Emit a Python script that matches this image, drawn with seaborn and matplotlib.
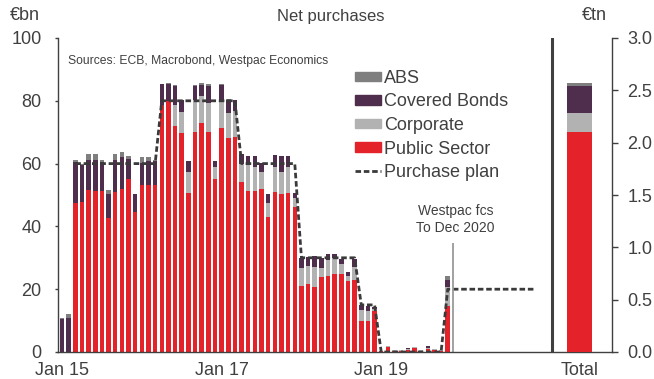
import numpy as np
import matplotlib
matplotlib.use("Agg")
import matplotlib.pyplot as plt
import seaborn as sns
from matplotlib.patches import Patch
from matplotlib.lines import Line2D

# monthly net purchases, EUR bn, Jan 15 .. Nov 19
public = [0, 0, 47.4, 47.8, 51.6, 51.4, 51.2, 42.8, 50.9, 52.0, 55.1, 44.5,
          53.1, 53.3, 53.2, 78.7, 79.8, 72.0, 69.8, 50.6, 70.0, 73.0, 70.2, 55.1,
          71.3, 68.1, 68.6, 54.0, 51.4, 51.4, 51.8, 43.0, 50.8, 50.2, 50.6, 46.2,
          20.9, 21.7, 20.8, 23.8, 24.1, 25.0, 25.0, 22.5, 23.0, 9.8, 10.0, 13.0,
          0.3, 1.5, 0.3, 0.2, 0.5, 1.4, 0.2, 1.0, 0.7, 0.2, 14.6]
corporate = [0, 0, 0, 0, 0, 0, 0, 0, 0, 0, 0, 0,
             0, 0, 0, 0, 0, 6.7, 6.5, 6.8, 10.2, 8.5, 9.0, 3.9,
             8.6, 7.9, 8.0, 5.9, 8.0, 7.4, 5.5, 4.6, 8.0, 7.2, 8.4, 2.9,
             5.8, 5.6, 6.4, 3.0, 5.1, 4.8, 2.9, 1.7, 4.0, 3.7, 3.2, 0.8,
             0, 0.4, 0.2, 0.5, 0.3, 0.2, 0.3, 0.4, 0.2, 0.3, 6.0]
covered = [10.4, 10.9, 13.2, 11.6, 9.7, 9.9, 9.2, 7.5, 10.1, 10.1, 6.5, 5.8,
           7.1, 7.5, 7.5, 6.5, 5.6, 6.0, 3.8, 3.4, 4.6, 3.6, 5.5, 1.9,
           5.0, 4.3, 3.5, 3.0, 3.1, 3.5, 2.8, 2.6, 4.0, 4.9, 3.5, 1.6,
           3.3, 3.1, 3.4, 3.1, 2.1, 1.3, 1.7, 1.2, 2.7, 1.6, 1.6, 0.6,
           0, 0, 0, 0, 0.5, 0, 0, 0.5, 0, 0, 2.3]
abs_ = [0.5, 1.1, 0.4, 0.6, 1.7, 1.9, 0.9, 1.4, 1.9, 1.6, 0.9, 0,
        2.0, 1.2, 0.3, 0.3, 0.2, 0.4, 0.3, 0, 0.3, 0.6, 0.6, 0,
        0.3, 0.2, 0.2, 0, 0, 0, 0, 0, 0, 0, 0, 0,
        0, 0, 0, 0, 0, 0, 0, 0, 0, 0, 0, 0,
        0, 0, 0, 0, 0, 0, 0, 0, 0, 0, 1.4]

# purchase plan, EUR bn per month, Jan 15 .. Dec 20 (incl. Westpac forecast)
plan = [np.nan, np.nan, 60, 60, 60, 60, 60, 60, 60, 60, 60, 60,
        60, 60, 60, 80, 80, 80, 80, 80, 80, 80, 80, 80,
        80, 80, 80, 60, 60, 60, 60, 60, 60, 60, 60, 60,
        30, 30, 30, 30, 30, 30, 30, 30, 30, 15, 15, 15,
        0, 0, 0, 0, 0, 0, 0, 0, 0, 0, 20, 20,
        20, 20, 20, 20, 20, 20, 20, 20, 20, 20, 20, 20]

# cumulative holdings, EUR tn
total_public = 2.10
total_corporate = 0.18
total_covered = 0.26
total_abs = 0.03

tick_pos = [0, 24, 48]
tick_labels = ["Jan 15", "Jan 17", "Jan 19"]

c_public = "#E3222A"
c_corp = "#B2B2B2"
c_cov = "#4F2D4C"
c_abs = "#7F7F7F"
c_line = "#3A3A3A"
c_txt = "#404040"

sns.set_style("white")
plt.rcParams["font.family"] = ["Liberation Sans", "DejaVu Sans"]

fig = plt.figure(figsize=(6.54, 3.79), dpi=100)
ax = fig.add_axes([57.5 / 654, 1 - 352 / 379, (612 - 57.5) / 654, (352 - 38) / 379])

x = np.arange(len(public))
pub = np.array(public)
lay1 = pub + np.array(corporate)
lay2 = lay1 + np.array(covered)
lay3 = lay2 + np.array(abs_)

# stacked bars: draw cumulative layers top-down
for vals, col in [(lay3, c_abs), (lay2, c_cov), (lay1, c_corp), (pub, c_public)]:
    sns.barplot(x=x, y=vals, native_scale=True, orient="x", color=col,
                saturation=1, width=0.68, linewidth=0, errorbar=None, ax=ax)

sns.lineplot(x=np.arange(len(plan)), y=plan, color=c_line, linewidth=2,
             linestyle=(0, (2, 1)), ax=ax)

# forecast marker and separator
ax.vlines(58.8, 0, 34.7, color="#9A9A9A", linewidth=1.3)
ax.text(59.2, 42.3, "Westpac fcs\nTo Dec 2020", ha="center", va="center",
        fontsize=10, color=c_txt, linespacing=1.3)
ax.axvline(73.7, color=c_txt, linewidth=2.2)

ax.set_ylim(0, 100)
ax.set_yticks([0, 20, 40, 60, 80, 100])

ax2 = ax.twinx()
t_pub = np.array([total_public])
t1 = t_pub + total_corporate
t2 = t1 + total_covered
t3 = t2 + total_abs
for vals, col in [(t3, c_abs), (t2, c_cov), (t1, c_corp), (t_pub, c_public)]:
    sns.barplot(x=[77.8], y=vals, native_scale=True, orient="x", color=col,
                saturation=1, width=3.85, linewidth=0, errorbar=None, ax=ax2)
ax2.set_ylim(0, 3)
ax2.set_yticks([0, 0.5, 1, 1.5, 2, 2.5, 3])
ax2.set_yticklabels([f"{v:.1f}" for v in ax2.get_yticks()])

ax.set_xlim(-0.68, 82.7)
ax.set_xticks(tick_pos + [77.8])
ax.set_xticklabels(tick_labels + ["Total"])

for a in (ax, ax2):
    a.set_xlabel("")
    a.set_ylabel("")
    a.spines["top"].set_visible(False)
    for s in ("left", "right", "bottom"):
        a.spines[s].set_color(c_txt)
        a.spines[s].set_linewidth(1.0)
ax.spines["right"].set_visible(False)
ax2.spines["left"].set_visible(False)
ax2.spines["bottom"].set_visible(False)

ax.tick_params(axis="y", left=True, length=2.5, width=1, color=c_txt, pad=9,
               labelsize=13, labelcolor=c_txt)
ax.tick_params(axis="x", length=0, pad=7, labelsize=13, labelcolor=c_txt)
ax2.tick_params(axis="y", right=True, length=4, width=1, color=c_txt, pad=7,
                labelsize=13, labelcolor=c_txt)

fig.text(10 / 654, 1 - 15 / 379, "€bn", fontsize=13, color=c_txt, va="center")
fig.text(331 / 654, 1 - 16 / 379, "Net purchases", fontsize=12, color=c_txt,
         ha="center", va="center")
fig.text(582 / 654, 1 - 15 / 379, "€tn", fontsize=13, color=c_txt, va="center")
fig.text(68 / 654, 1 - 61 / 379, "Sources: ECB, Macrobond, Westpac Economics",
         fontsize=8.7, color=c_txt, va="center")

handles = [Patch(color=c_abs), Patch(color=c_cov), Patch(color=c_corp),
           Patch(color=c_public),
           Line2D([0], [0], color=c_line, linewidth=2, linestyle=(0, (2, 1)))]
labels = ["ABS", "Covered Bonds", "Corporate", "Public Sector", "Purchase plan"]
fig.legend(handles, labels, loc="upper left",
           bbox_to_anchor=(355 / 654, 1 - 70 / 379), frameon=False,
           fontsize=13, handlelength=1.45, handleheight=0.4,
           handletextpad=0.15, labelspacing=0.36, borderpad=0,
           borderaxespad=0, labelcolor=c_txt)

fig.savefig("out.png", dpi=100)
